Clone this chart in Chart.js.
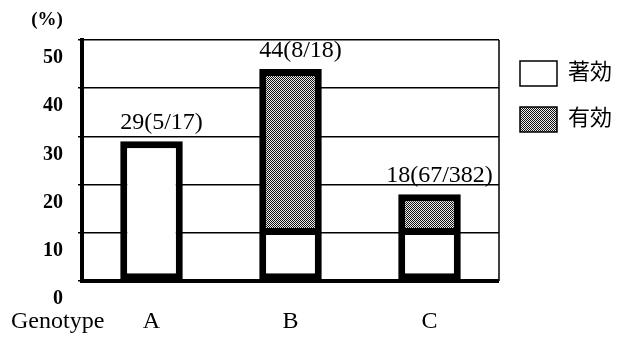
<!DOCTYPE html>
<html>
<head>
<meta charset="utf-8">
<script src="https://cdn.jsdelivr.net/npm/chart.js@4.4.1/dist/chart.umd.min.js"></script>
<style>
  html, body { margin: 0; padding: 0; background: #fff; }
  #wrap { width: 630px; height: 341px; }
</style>
</head>
<body>
<div id="wrap"><canvas id="genoChart" width="630" height="341"></canvas></div>
<script>
var genotypes = ["A", "B", "C"];
var seriesNames = ["著効", "有効"];
var markedRate = [29, 11, 11];       // 著効
var effectiveRate = [null, 33, 7];   // 有効
var barLabels = ["29(5/17)", "44(8/18)", "18(67/382)"];
var yTicks = [0, 10, 20, 30, 40, 50];

var serif = '"Liberation Serif", "Noto Sans CJK JP", serif';

// checker dither like the scanned grey fill
function makeDither() {
    var c = document.createElement("canvas");
    c.width = 2;
    c.height = 2;
    var g = c.getContext("2d");
    g.fillStyle = "#eee";
    g.fillRect(0, 0, 2, 2);
    g.fillStyle = "#111";
    g.fillRect(0, 0, 1, 1);
    g.fillRect(1, 1, 1, 1);
    return g.createPattern(c, "repeat");
}
var dither = makeDither();

var extras = {
    id: "extras",
    afterDraw: function(chart) {
        var ctx = chart.ctx, area = chart.chartArea;
        var xs = chart.scales.x, ys = chart.scales.y;
        ctx.save();
        // thin right frame
        ctx.strokeStyle = "#000";
        ctx.lineWidth = 1.5;
        ctx.beginPath();
        ctx.moveTo(area.right, area.top);
        ctx.lineTo(area.right, area.bottom);
        ctx.stroke();

        ctx.fillStyle = "#000";
        ctx.font = "24px " + serif;
        ctx.textAlign = "center";
        ctx.textBaseline = "alphabetic";
        barLabels.forEach(function(t, i) {
            var total = (markedRate[i] || 0) + (effectiveRate[i] || 0);
            ctx.fillText(t, xs.getPixelForValue(i) + 10, ys.getPixelForValue(total) - 12);
        });

        ctx.textAlign = "left";
        ctx.textBaseline = "middle";
        ctx.fillText("Genotype", 11, 322);

        ctx.font = "bold 19px " + serif;
        ctx.textAlign = "center";
        ctx.fillText("(%)", 47, 20);
        ctx.restore();
    }
};

var chart = new Chart(document.getElementById("genoChart"), {
    type: "bar",
    data: {
        labels: genotypes,
        datasets: [
            {
                label: seriesNames[0],
                data: markedRate,
                backgroundColor: "#fff",
                borderColor: "#000",
                borderWidth: 7,
                borderSkipped: false
            },
            {
                label: seriesNames[1],
                data: effectiveRate,
                backgroundColor: dither,
                borderColor: "#000",
                borderWidth: 7
            }
        ]
    },
    options: {
        responsive: false,
        animation: false,
        layout: { padding: { top: 40, right: 8, bottom: 0, left: 0 } },
        datasets: {
            bar: { categoryPercentage: 1, barPercentage: 0.45 }
        },
        scales: {
            x: {
                stacked: true,
                grid: { display: false, drawTicks: false },
                border: { display: true, color: "#000", width: 4 },
                ticks: { color: "#000", padding: 26, font: { family: serif, size: 24 } },
                afterFit: function(scale) { scale.height = 60; }
            },
            y: {
                stacked: true,
                min: 0,
                max: 50,
                afterBuildTicks: function(scale) {
                    scale.ticks = yTicks.map(function(v) { return { value: v }; });
                },
                grid: { color: "#000", lineWidth: 1.5, tickLength: 4 },
                border: { display: true, color: "#000", width: 4 },
                ticks: {
                    color: "#000",
                    padding: 15,
                    labelOffset: 18,
                    font: { family: serif, size: 20, weight: "bold" }
                },
                afterFit: function(scale) { scale.width = 82; }
            }
        },
        plugins: {
            legend: {
                position: "right",
                align: "start",
                labels: {
                    color: "#000",
                    boxWidth: 37,
                    boxHeight: 25,
                    padding: 21,
                    font: { family: serif, size: 22 },
                    generateLabels: function(c) {
                        var items = Chart.defaults.plugins.legend.labels.generateLabels(c);
                        items.forEach(function(it) { it.lineWidth = 1.5; });
                        return items;
                    }
                }
            },
            tooltip: { enabled: false }
        }
    },
    plugins: [extras]
});
</script>
</body>
</html>
